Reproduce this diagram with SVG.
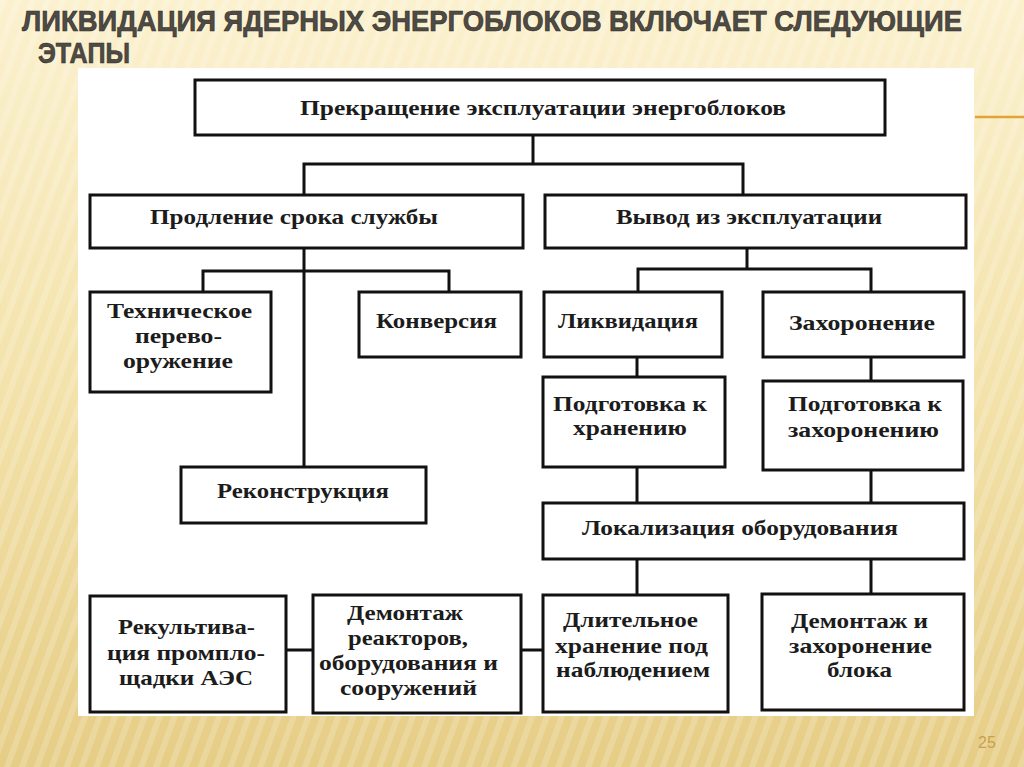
<svg xmlns="http://www.w3.org/2000/svg" width="1024" height="767" viewBox="0 0 1024 767">
<defs>
<linearGradient id="bg" x1="0" y1="0" x2="0" y2="1">
<stop offset="0" stop-color="#fbf1cf"/>
<stop offset="0.5" stop-color="#f3e2aa"/>
<stop offset="1" stop-color="#e6cd86"/>
</linearGradient>
<pattern id="streak" width="14" height="14" patternUnits="userSpaceOnUse" patternTransform="rotate(20)">
<rect width="6" height="14" fill="#ffffff" opacity="0.18"/>
</pattern>
<style>
.box{fill:#ffffff;stroke:#111111;stroke-width:3}
.con{fill:none;stroke:#111111;stroke-width:3;stroke-linecap:square}
.t{font-family:"Liberation Serif","Times New Roman",serif;font-size:21px;font-weight:bold;fill:#1c1c1c}
.title{font-family:"Liberation Sans",Arial,sans-serif;font-size:29px;font-weight:bold;fill:#4e4a44;stroke:#2e2b28;stroke-width:0.6}
</style>
</defs>
<rect width="1024" height="767" fill="url(#bg)"/>
<rect width="1024" height="767" fill="url(#streak)"/>
<line x1="975" y1="117" x2="1024" y2="117" stroke="#e2a23a" stroke-width="2.5"/>
<g id="title">
<text class="title" x="22" y="31" textLength="940" lengthAdjust="spacingAndGlyphs">ЛИКВИДАЦИЯ ЯДЕРНЫХ ЭНЕРГОБЛОКОВ ВКЛЮЧАЕТ СЛЕДУЮЩИЕ</text>
<text class="title" x="38" y="63" textLength="92" lengthAdjust="spacingAndGlyphs">ЭТАПЫ</text>
</g>
<rect id="panel" x="78" y="68" width="896" height="648" fill="#ffffff"/>
<g id="connectors">
<path class="con" d="M533 136 V164 M304 195 V164 H743 V195"/>
<path class="con" d="M304 248 V467 M203 292 V271 H449 V292"/>
<path class="con" d="M747 248 V269 M638 292 V269 H871 V292"/>
<path class="con" d="M637 357 V377 M871 357 V381"/>
<path class="con" d="M637 467 V503 M871 470 V503"/>
<path class="con" d="M637 559 V595 M871 559 V594"/>
<path class="con" d="M286 650 H313 M521 650 H543"/>
</g>
<g id="n-top"><rect class="box" x="195" y="80" width="690" height="55"/>
<text class="t" x="300" y="115" textLength="486" lengthAdjust="spacingAndGlyphs">Прекращение эксплуатации энергоблоков</text></g>
<g id="n-prodl"><rect class="box" x="90" y="195" width="433" height="53"/>
<text class="t" x="150" y="224" textLength="288" lengthAdjust="spacingAndGlyphs">Продление срока службы</text></g>
<g id="n-vyvod"><rect class="box" x="545" y="195" width="421" height="53"/>
<text class="t" x="616" y="224" textLength="266" lengthAdjust="spacingAndGlyphs">Вывод из эксплуатации</text></g>
<g id="n-tech"><rect class="box" x="90" y="292" width="181" height="100"/>
<text class="t" x="107" y="318" textLength="145" lengthAdjust="spacingAndGlyphs">Техническое</text>
<text class="t" x="135" y="343" textLength="87" lengthAdjust="spacingAndGlyphs">перево-</text>
<text class="t" x="123" y="368" textLength="110" lengthAdjust="spacingAndGlyphs">оружение</text></g>
<g id="n-konv"><rect class="box" x="359" y="292" width="162" height="65"/>
<text class="t" x="376" y="328" textLength="121" lengthAdjust="spacingAndGlyphs">Конверсия</text></g>
<g id="n-rekon"><rect class="box" x="181" y="467" width="245" height="56"/>
<text class="t" x="217" y="498" textLength="172" lengthAdjust="spacingAndGlyphs">Реконструкция</text></g>
<g id="n-likv"><rect class="box" x="544" y="292" width="178" height="65"/>
<text class="t" x="558" y="328" textLength="140" lengthAdjust="spacingAndGlyphs">Ликвидация</text></g>
<g id="n-zah"><rect class="box" x="763" y="292" width="201" height="65"/>
<text class="t" x="789" y="330" textLength="146" lengthAdjust="spacingAndGlyphs">Захоронение</text></g>
<g id="n-podg1"><rect class="box" x="543" y="377" width="182" height="90"/>
<text class="t" x="553" y="411" textLength="154" lengthAdjust="spacingAndGlyphs">Подготовка к</text>
<text class="t" x="573" y="435" textLength="114" lengthAdjust="spacingAndGlyphs">хранению</text></g>
<g id="n-podg2"><rect class="box" x="763" y="381" width="200" height="89"/>
<text class="t" x="788" y="411" textLength="154" lengthAdjust="spacingAndGlyphs">Подготовка к</text>
<text class="t" x="788" y="437" textLength="151" lengthAdjust="spacingAndGlyphs">захоронению</text></g>
<g id="n-lok"><rect class="box" x="543" y="503" width="421" height="56"/>
<text class="t" x="582" y="535" textLength="316" lengthAdjust="spacingAndGlyphs">Локализация оборудования</text></g>
<g id="n-rekult"><rect class="box" x="90" y="596" width="196" height="116"/>
<text class="t" x="118" y="634" textLength="137" lengthAdjust="spacingAndGlyphs">Рекультива-</text>
<text class="t" x="107" y="660" textLength="158" lengthAdjust="spacingAndGlyphs">ция промпло-</text>
<text class="t" x="119" y="685" textLength="134" lengthAdjust="spacingAndGlyphs">щадки АЭС</text></g>
<g id="n-demreak"><rect class="box" x="313" y="595" width="208" height="118"/>
<text class="t" x="347" y="620" textLength="116" lengthAdjust="spacingAndGlyphs">Демонтаж</text>
<text class="t" x="348" y="645" textLength="120" lengthAdjust="spacingAndGlyphs">реакторов,</text>
<text class="t" x="319" y="670" textLength="179" lengthAdjust="spacingAndGlyphs">оборудования и</text>
<text class="t" x="340" y="695" textLength="137" lengthAdjust="spacingAndGlyphs">сооружений</text></g>
<g id="n-dlit"><rect class="box" x="543" y="595" width="185" height="117"/>
<text class="t" x="563" y="627" textLength="135" lengthAdjust="spacingAndGlyphs">Длительное</text>
<text class="t" x="555" y="653" textLength="153" lengthAdjust="spacingAndGlyphs">хранение под</text>
<text class="t" x="556" y="677" textLength="154" lengthAdjust="spacingAndGlyphs">наблюдением</text></g>
<g id="n-demblok"><rect class="box" x="762" y="594" width="202" height="116"/>
<text class="t" x="791" y="628" textLength="137" lengthAdjust="spacingAndGlyphs">Демонтаж и</text>
<text class="t" x="789" y="653" textLength="143" lengthAdjust="spacingAndGlyphs">захоронение</text>
<text class="t" x="827" y="677" textLength="65" lengthAdjust="spacingAndGlyphs">блока</text></g>
<text x="978" y="748" font-family="'Liberation Sans',Arial,sans-serif" font-size="16" fill="#c9a04e">25</text>
</svg>
